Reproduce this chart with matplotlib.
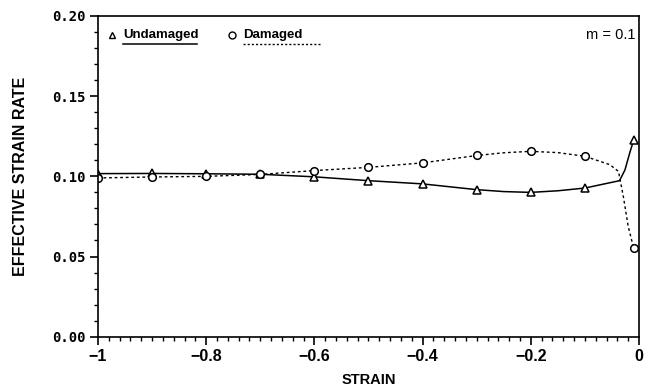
import matplotlib
matplotlib.use("Agg")
import matplotlib.pyplot as plt
from matplotlib.ticker import MultipleLocator, FixedLocator

plt.rcParams["font.family"] = ["Liberation Sans", "DejaVu Sans"]

# marker points
strain_pts = [-1.0, -0.9, -0.8, -0.7, -0.6, -0.5, -0.4, -0.3, -0.2, -0.1, -0.01]
undamaged_pts = [0.1017, 0.1018, 0.1016, 0.1013, 0.0997, 0.0973, 0.0953, 0.0917, 0.0900, 0.0927, 0.1225]
damaged_pts = [0.0990, 0.0996, 0.1000, 0.1012, 0.1036, 0.1056, 0.1084, 0.1130, 0.1156, 0.1125, 0.0553]

# curves
und_curve_x = [-1.0, -0.9, -0.8, -0.7, -0.6, -0.5, -0.4, -0.3, -0.25, -0.2, -0.15, -0.1,
               -0.036, -0.026, -0.017, -0.01]
und_curve_y = [0.1017, 0.1018, 0.1016, 0.1013, 0.0997, 0.0973, 0.0953, 0.0917, 0.0905, 0.0900, 0.0910, 0.0927,
               0.0973, 0.1040, 0.1148, 0.1225]
dam_curve_x = [-1.0, -0.9, -0.8, -0.7, -0.6, -0.5, -0.4, -0.3, -0.25, -0.2, -0.15, -0.1,
               -0.054, -0.038, -0.029, -0.020, -0.01]
dam_curve_y = [0.0990, 0.0996, 0.1000, 0.1012, 0.1036, 0.1056, 0.1084, 0.1130, 0.1147, 0.1156, 0.1148, 0.1125,
               0.1073, 0.1031, 0.0875, 0.0688, 0.0553]

xticks = [-1, -0.8, -0.6, -0.4, -0.2, 0]
xlabels = ["\u22121", "\u22120.8", "\u22120.6", "\u22120.4", "\u22120.2", "0"]
yticks = [0.0, 0.05, 0.10, 0.15, 0.20]
ylabels = ["0.00", "0.05", "0.10", "0.15", "0.20"]

fig = plt.figure(figsize=(6.51, 3.88), dpi=100)
ax = fig.add_axes([0.1505, 0.1322, 0.8311, 0.8266])

ax.plot(und_curve_x, und_curve_y, color="black", lw=1.1)
ax.plot(dam_curve_x, dam_curve_y, color="black", lw=1.0, ls=(0, (2, 2)))
ax.plot(strain_pts, undamaged_pts, ls="none", marker="^", ms=5.5, mfc="white", mec="black", mew=1.1)
ax.plot(strain_pts, damaged_pts, ls="none", marker="o", ms=5.5, mfc="white", mec="black", mew=1.1)

ax.set_xlim(-1, 0)
ax.set_ylim(0, 0.2)
ax.xaxis.set_major_locator(FixedLocator(xticks))
ax.set_xticklabels(xlabels, fontsize=11.5, fontweight="bold")
ax.xaxis.set_minor_locator(MultipleLocator(0.02))
ax.yaxis.set_major_locator(FixedLocator(yticks))
ax.set_yticklabels(ylabels, fontsize=10, fontweight="bold", family="DejaVu Sans Mono")
ax.yaxis.set_minor_locator(MultipleLocator(0.01))
ax.tick_params(which="major", length=6, width=1.2, pad=3)
ax.tick_params(which="minor", length=3, width=1)
for s in ax.spines.values():
    s.set_linewidth(1.2)

ax.set_xlabel("STRAIN", fontsize=10.5, fontweight="bold", labelpad=6)
ax.set_ylabel("EFFECTIVE STRAIN RATE", fontsize=11.5, fontweight="bold", labelpad=17)

# legend drawn by hand, with underlines like the original
ax.plot([0.026], [0.94], transform=ax.transAxes, marker="^", ms=5, mfc="white", mec="black", mew=1, ls="none")
ax.text(0.047, 0.94, "Undamaged", transform=ax.transAxes, fontsize=9.5, fontweight="bold", va="center")
ax.plot([0.047, 0.183], [0.914, 0.914], transform=ax.transAxes, color="black", lw=1.1)
ax.plot([0.248], [0.94], transform=ax.transAxes, marker="o", ms=5, mfc="white", mec="black", mew=1, ls="none")
ax.text(0.268, 0.94, "Damaged", transform=ax.transAxes, fontsize=9.5, fontweight="bold", va="center")
ax.plot([0.268, 0.410], [0.914, 0.914], transform=ax.transAxes, color="black", lw=1.0, ls=(0, (1.5, 1.5)))

ax.text(0.993, 0.94, "m = 0.1", transform=ax.transAxes, fontsize=10.5, ha="right", va="center")

fig.savefig("out.png", dpi=100)
